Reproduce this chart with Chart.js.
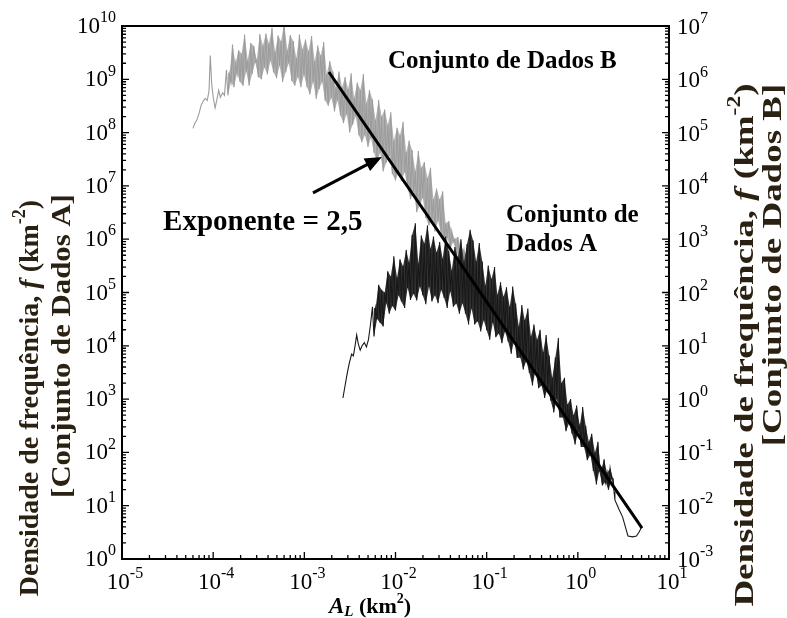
<!DOCTYPE html>
<html lang="pt">
<head>
<meta charset="UTF-8">
<title>Densidade de frequência x A_L</title>
<style>
  html, body { margin: 0; padding: 0; background: #fff; }
  #wrap { width: 787px; height: 618px; }
</style>
</head>
<body>
<div id="wrap"><canvas id="chart" width="787" height="618"></canvas></div>
<script src="https://cdn.jsdelivr.net/npm/chart.js"></script>
<script>
// Conjunto de Dados B (eixo direito), area A_L em km2
const setBX = [
  6.0e-5, 6.3e-5, 6.6e-5, 7.0e-5, 7.4e-5, 7.8e-5, 8.2e-5, 8.6e-5, 9.0e-5, 9.3e-5,
  9.6e-5, 1.0e-4, 1.05e-4, 1.1e-4, 1.15e-4, 1.2e-4, 1.27e-4, 1.33e-4,
  1.40e-4, 1.45e-4, 1.51e-4, 1.57e-4, 1.63e-4, 1.69e-4, 1.76e-4, 1.83e-4, 1.90e-4, 1.97e-4,
  2.05e-4, 2.13e-4, 2.21e-4, 2.30e-4, 2.39e-4, 2.48e-4, 2.58e-4, 2.68e-4, 2.79e-4, 2.90e-4,
  3.01e-4, 3.13e-4, 3.25e-4, 3.38e-4, 3.51e-4, 3.65e-4, 3.79e-4, 3.94e-4, 4.09e-4, 4.25e-4,
  4.42e-4, 4.59e-4, 4.77e-4, 4.96e-4, 5.15e-4, 5.35e-4, 5.56e-4, 5.78e-4, 6.01e-4, 6.25e-4,
  6.49e-4, 6.75e-4, 7.01e-4, 7.28e-4, 7.57e-4, 7.86e-4, 8.17e-4, 8.49e-4, 8.83e-4, 9.17e-4,
  9.53e-4, 9.91e-4, 1.03e-3, 1.07e-3, 1.11e-3, 1.15e-3, 1.20e-3, 1.25e-3, 1.30e-3, 1.35e-3,
  1.40e-3, 1.45e-3, 1.51e-3, 1.57e-3, 1.63e-3, 1.69e-3, 1.76e-3, 1.83e-3, 1.90e-3, 1.98e-3,
  2.06e-3, 2.14e-3, 2.22e-3, 2.31e-3, 2.40e-3, 2.49e-3, 2.59e-3, 2.69e-3, 2.80e-3, 2.91e-3,
  3.02e-3, 3.14e-3, 3.26e-3, 3.39e-3, 3.52e-3, 3.66e-3, 3.81e-3, 3.96e-3, 4.11e-3, 4.27e-3,
  4.44e-3, 4.62e-3, 4.80e-3, 4.99e-3, 5.18e-3, 5.38e-3, 5.59e-3, 5.81e-3, 6.04e-3, 6.28e-3,
  6.53e-3, 6.78e-3, 7.05e-3, 7.32e-3, 7.61e-3, 7.91e-3, 8.22e-3, 8.54e-3, 8.88e-3, 9.23e-3,
  9.59e-3, 9.99e-3, 1.04e-2, 1.08e-2, 1.12e-2, 1.16e-2, 1.21e-2, 1.26e-2, 1.31e-2, 1.36e-2,
  1.41e-2, 1.46e-2, 1.52e-2, 1.58e-2, 1.65e-2, 1.71e-2, 1.78e-2, 1.85e-2, 1.92e-2, 1.99e-2,
  2.07e-2, 2.15e-2, 2.24e-2, 2.33e-2, 2.42e-2, 2.51e-2, 2.61e-2, 2.71e-2, 2.82e-2, 2.93e-2,
  3.05e-2, 3.17e-2, 3.29e-2, 3.42e-2, 3.55e-2, 3.69e-2, 3.84e-2, 3.99e-2, 4.14e-2, 4.31e-2,
  4.48e-2, 4.65e-2, 4.83e-2, 5.02e-2, 5.22e-2, 5.43e-2, 5.64e-2, 5.86e-2, 6.09e-2, 6.33e-2,
  6.58e-2, 6.84e-2, 7.10e-2, 7.38e-2, 7.67e-2, 7.97e-2, 8.29e-2, 8.61e-2, 8.95e-2, 9.30e-2,
  9.67e-2, 0.100, 0.104, 0.108
];
const setBY = [
  1.2e5, 1.5e5, 1.7e5, 2.3e5, 3.3e5, 3.9e5, 4.4e5, 4.0e5, 6.0e5, 2.8e6,
  9.0e5, 4.6e5, 2.9e5, 4.2e5, 6.2e5, 4.6e5, 5.6e5, 5.0e5,
  1.5e6, 5.0e5, 1.26e6, 8.9e5, 4.5e6, 7.1e5, 2.0e6, 1.3e6, 3.5e6, 8.9e5,
  3.0e6, 7.6e5, 6.9e6, 1.4e6, 2.3e6, 7.6e5, 4.8e6, 1.26e6, 4.2e6, 2.1e6,
  2.3e6, 1.1e6, 7.1e6, 1.0e6, 4.3e6, 1.66e6, 7.2e6, 1.23e6, 4.7e6, 2.2e6,
  9.3e6, 1.35e6, 3.3e6, 1.05e6, 6.6e6, 1.8e6, 5.2e6, 8.9e5, 1.15e7, 1.35e6,
  3.5e6, 2.0e6, 6.8e6, 9.3e5, 5.2e6, 7.6e5, 2.5e6, 1.1e6, 6.9e6, 7.1e5,
  3.7e6, 1.2e6, 5.6e6, 7.1e5, 3.4e6, 5.2e5, 6.5e6, 8.9e5, 2.2e6, 4.3e5,
  4.3e6, 6.5e5, 2.8e6, 8.9e5, 5.0e6, 4.0e5, 1.26e6, 3.2e5, 2.2e6, 4.5e5,
  1.4e6, 2.5e5, 7.1e5, 4.0e5, 1.4e6, 2.1e5, 7.1e5, 1.5e5, 1.1e6, 2.2e5,
  6.6e5, 1.0e5, 1.3e6, 1.4e5, 4.5e5, 2.0e5, 8.7e5, 8.9e4, 6.3e5, 6.6e4,
  1.26e6, 8.9e4, 3.6e5, 5.4e4, 6.3e5, 7.9e4, 4.2e5, 4.2e4, 1.74e5, 2.8e4,
  4.1e5, 4.2e4, 2.0e5, 1.86e4, 2.7e5, 2.7e4, 1.4e5, 3.7e4, 2.4e5, 1.66e4,
  7.1e4, 1.26e4, 1.23e5, 1.8e4, 8.9e4, 1.23e4, 1.6e5, 1.8e4, 4.3e4, 8.9e3,
  7.1e4, 5.6e3, 4.7e4, 7.9e3, 1.9e4, 3.2e3, 4.5e4, 4.3e3, 2.2e4, 5.9e3,
  2.8e4, 2.5e3, 1.4e4, 1.8e3, 2.2e4, 2.4e3, 5.6e3, 1.4e3, 8.9e3, 2.2e3,
  5.6e3, 1.26e3, 7.9e3, 890, 2.0e3, 1.1e3, 2.2e3, 660, 1.4e3, 890,
  1.0e3, 560, 1.1e3, 480, 710, 400, 630, 350, 450, 320,
  420, 260, 280, 200, 240, 140, 160, 100, 126, 71,
  83, 56, 52, 46
];
// trecho ruidoso de B (picos nos indices pares, vales nos impares)
const bandB = [18, 191];

// Conjunto de Dados A (eixo esquerdo)
const setAX = [
  2.65e-3, 2.8e-3, 2.95e-3, 3.1e-3, 3.3e-3, 3.45e-3, 3.6e-3, 3.75e-3, 3.9e-3, 4.1e-3,
  4.3e-3, 4.55e-3, 4.8e-3, 5.05e-3, 5.3e-3,
  5.59e-3, 5.81e-3, 6.04e-3, 6.28e-3, 6.53e-3, 6.78e-3, 7.05e-3, 7.32e-3, 7.61e-3, 7.91e-3,
  8.22e-3, 8.54e-3, 8.88e-3, 9.23e-3, 9.59e-3, 9.99e-3, 1.04e-2, 1.08e-2, 1.12e-2, 1.16e-2,
  1.21e-2, 1.26e-2, 1.31e-2, 1.36e-2, 1.41e-2, 1.46e-2, 1.52e-2, 1.58e-2, 1.65e-2, 1.71e-2,
  1.78e-2, 1.85e-2, 1.92e-2, 1.99e-2, 2.07e-2, 2.15e-2, 2.24e-2, 2.33e-2, 2.42e-2, 2.51e-2,
  2.61e-2, 2.71e-2, 2.82e-2, 2.93e-2, 3.05e-2, 3.17e-2, 3.29e-2, 3.42e-2, 3.55e-2, 3.69e-2,
  3.84e-2, 3.99e-2, 4.14e-2, 4.31e-2, 4.48e-2, 4.65e-2, 4.83e-2, 5.02e-2, 5.22e-2, 5.43e-2,
  5.64e-2, 5.86e-2, 6.09e-2, 6.33e-2, 6.58e-2, 6.84e-2, 7.10e-2, 7.38e-2, 7.67e-2, 7.97e-2,
  8.29e-2, 8.61e-2, 8.95e-2, 9.30e-2, 9.67e-2, 0.100, 0.104, 0.108, 0.113, 0.117,
  0.122, 0.126, 0.131, 0.136, 0.142, 0.147, 0.153, 0.159, 0.165, 0.172,
  0.179, 0.186, 0.193, 0.200, 0.208, 0.216, 0.225, 0.234, 0.243, 0.252,
  0.262, 0.272, 0.283, 0.294, 0.306, 0.318, 0.330, 0.343, 0.357, 0.371,
  0.385, 0.400, 0.416, 0.432, 0.449, 0.467, 0.485, 0.504, 0.524, 0.545,
  0.566, 0.588, 0.611, 0.635, 0.660, 0.686, 0.713, 0.741, 0.770, 0.800,
  0.832, 0.864, 0.898, 0.933, 0.970, 1.01, 1.05, 1.09, 1.13, 1.17,
  1.22, 1.27, 1.32, 1.37, 1.42, 1.48, 1.54, 1.60, 1.66, 1.72,
  1.79, 1.86, 1.94, 2.01, 2.09, 2.17, 2.26, 2.35, 2.44, 2.50,
  2.55, 2.85, 3.1, 3.45, 3.55, 4.0, 4.4, 4.7, 4.95
];
const setAY = [
  1.05e3, 1.8e3, 3.0e3, 4.6e3, 7.0e3, 6.5e3, 1.0e4, 1.6e4, 1.1e4, 8.3e3,
  1.0e4, 1.15e4, 9.5e3, 1.3e4, 2.4e4,
  5.4e4, 1.5e4, 5.0e4, 3.2e4, 1.4e5, 2.7e4, 1.12e5, 2.3e4, 1.0e5, 6.3e4,
  2.5e5, 4.0e4, 2.0e5, 5.6e4, 4.8e5, 4.6e4, 1.9e5, 8.9e4, 4.2e5, 6.8e4,
  3.1e5, 5.1e4, 6.3e5, 1.23e5, 3.7e5, 7.2e4, 1.2e6, 9.5e4, 2.0e6, 7.1e4,
  3.5e5, 1.3e5, 1.17e6, 8.9e4, 8.3e5, 6.0e4, 1.8e6, 1.3e5, 6.6e5, 6.8e4,
  1.12e6, 8.9e4, 5.6e5, 6.3e4, 8.9e5, 1.12e5, 4.3e5, 7.9e4, 1.12e6, 5.1e4,
  6.0e5, 1.05e5, 2.6e5, 5.4e4, 7.1e5, 6.2e4, 4.6e5, 4.0e4, 1.0e6, 6.3e4,
  3.8e5, 4.0e4, 8.1e5, 2.5e4, 1.5e6, 5.0e4, 9.5e5, 2.5e4, 3.8e5, 2.9e4,
  8.5e5, 1.86e4, 3.8e5, 3.0e4, 1.35e5, 1.95e4, 3.2e5, 1.3e4, 1.8e5, 2.75e4,
  3.0e5, 1.45e4, 9.1e4, 1.7e4, 1.55e5, 1.12e4, 8.3e4, 1.86e4, 1.26e5, 1.2e4,
  5.4e4, 7.1e3, 1.3e5, 1.26e4, 6.2e4, 5.9e3, 2.3e4, 6.0e3, 5.8e4, 3.6e3,
  3.0e4, 5.2e3, 5.0e4, 3.1e3, 1.5e4, 1.8e3, 2.5e4, 3.4e3, 1.3e4, 1.6e3,
  2.0e4, 1.8e3, 7.6e3, 1.05e3, 1.6e4, 1.6e3, 6.6e3, 930, 2.5e3, 560,
  6.0e3, 1.0e3, 1.4e4, 450, 2.0e3, 450, 2.5e3, 250, 790, 350,
  1.0e3, 224, 500, 141, 760, 250, 316, 126, 710, 126,
  316, 71, 158, 89, 224, 45, 100, 25, 158, 45,
  45, 24, 74, 28, 41, 20, 50, 32, 32, 18,
  12.8, 8.3, 6.1, 3.2, 2.7, 2.6, 2.7, 3.2, 3.8
];
const bandA = [15, 174];

// reta de ajuste, expoente 2,5 (eixo esquerdo)
const fitX = [1.86e-3, 5.06];
const fitY = [1.37e9, 3.8];

// expoentes das marcas principais
const xExp = [-5, -4, -3, -2, -1, 0, 1];
const leftExp = [0, 1, 2, 3, 4, 5, 6, 7, 8, 9, 10];
const rightExp = [-3, -2, -1, 0, 1, 2, 3, 4, 5, 6, 7];

// seta e textos, em coordenadas do eixo esquerdo
const arrowFrom = [1.245e-3, 7.4e6];
const arrowTo = [7.1e-3, 3.5e7];
const notes = [
  { text: 'Conjunto de Dados B', x: 8.28e-3, y: 2.11e9, size: 25 },
  { text: 'Exponente = 2,5', x: 2.82e-5, y: 2.1e6, size: 29 },
  { text: 'Conjunto de', x: 0.163, y: 2.72e6, size: 25 },
  { text: 'Dados A', x: 0.163, y: 8.1e5, size: 25 }
];

const SERIF = '"Liberation Serif", "Times New Roman", serif';
const TITLE_COLOR = '#2a2112';

function pts(xs, ys) {
  return xs.map((v, i) => ({ x: v, y: ys[i] }));
}

// picos (parity 0) ou vales (parity 1) do trecho ruidoso
function edge(xs, ys, band, parity) {
  const out = [];
  for (let i = band[0]; i <= band[1]; i++) {
    if ((i - band[0]) % 2 === parity) out.push({ x: xs[i], y: ys[i] });
  }
  return out;
}

// desenha trechos de texto com fontes diferentes numa mesma linha
function drawRuns(ctx, runs, x, y, align) {
  let total = 0;
  runs.forEach(r => { ctx.font = r[1]; total += ctx.measureText(r[0]).width; });
  let cx = align === 'center' ? x - total / 2 : align === 'right' ? x - total : x;
  ctx.textAlign = 'left';
  runs.forEach(r => {
    ctx.font = r[1];
    ctx.fillText(r[0], cx, y + (r[2] || 0));
    cx += ctx.measureText(r[0]).width;
  });
}

function powLabel(e) {
  return [['10', '23px ' + SERIF, 0], [String(e), '16px ' + SERIF, -9]];
}

function axisTitle(size) {
  return [
    ['Densidade de frequência, ', 'bold ' + size + 'px ' + SERIF, 0],
    ['f', 'bold italic ' + size + 'px ' + SERIF, 0],
    [' (km', 'bold ' + size + 'px ' + SERIF, 0],
    ['-2', 'bold ' + Math.round(size * 0.65) + 'px ' + SERIF, -Math.round(size * 0.38)],
    [')', 'bold ' + size + 'px ' + SERIF, 0]
  ];
}

// texto vertical; stretch alonga no sentido da leitura
function rotated(ctx, runs, x, y, stretch) {
  ctx.save();
  ctx.translate(x, y);
  ctx.rotate(-Math.PI / 2);
  ctx.scale(stretch || 1, 1);
  drawRuns(ctx, runs, 0, 0, 'center');
  ctx.restore();
}

const decor = {
  id: 'decor',
  afterDatasetsDraw(chart) {
    const { ctx, chartArea: a } = chart;
    const { x, y, y2 } = chart.scales;
    ctx.save();

    // seta
    const x0 = x.getPixelForValue(arrowFrom[0]), y0 = y.getPixelForValue(arrowFrom[1]);
    const x1 = x.getPixelForValue(arrowTo[0]), y1 = y.getPixelForValue(arrowTo[1]);
    const ang = Math.atan2(y1 - y0, x1 - x0);
    const c = Math.cos(ang), s = Math.sin(ang);
    ctx.strokeStyle = '#000';
    ctx.fillStyle = '#000';
    ctx.lineWidth = 3;
    ctx.beginPath();
    ctx.moveTo(x0, y0);
    ctx.lineTo(x1 - 12 * c, y1 - 12 * s);
    ctx.stroke();
    ctx.beginPath();
    ctx.moveTo(x1, y1);
    ctx.lineTo(x1 - 17 * c + 7 * s, y1 - 17 * s - 7 * c);
    ctx.lineTo(x1 - 17 * c - 7 * s, y1 - 17 * s + 7 * c);
    ctx.closePath();
    ctx.fill();

    // textos dentro do grafico
    ctx.textBaseline = 'middle';
    notes.forEach(n => {
      drawRuns(ctx, [[n.text, 'bold ' + n.size + 'px ' + SERIF, 0]],
        x.getPixelForValue(n.x), y.getPixelForValue(n.y), 'left');
    });

    // moldura
    ctx.lineWidth = 2;
    ctx.strokeRect(a.left, a.top, a.right - a.left, a.bottom - a.top);

    // marcas para dentro: esquerda, direita e base
    ctx.lineWidth = 1.3;
    ctx.beginPath();
    for (let e = 0; e < 10; e++) {
      for (let m = 1; m <= 9; m++) {
        const p = y.getPixelForValue(m * Math.pow(10, e));
        const len = m === 1 ? 7 : 4;
        ctx.moveTo(a.left, p); ctx.lineTo(a.left + len, p);
      }
    }
    for (let e = -3; e < 7; e++) {
      for (let m = 1; m <= 9; m++) {
        const p = y2.getPixelForValue(m * Math.pow(10, e));
        const len = m === 1 ? 7 : 4;
        ctx.moveTo(a.right, p); ctx.lineTo(a.right - len, p);
      }
    }
    for (let e = -5; e < 1; e++) {
      for (let m = 1; m <= 9; m++) {
        const p = x.getPixelForValue(m * Math.pow(10, e));
        const len = m === 1 ? 7 : 4;
        ctx.moveTo(p, a.bottom); ctx.lineTo(p, a.bottom - len);
      }
    }
    ctx.stroke();

    // rotulos das marcas
    leftExp.forEach(e => drawRuns(ctx, powLabel(e), a.left - 6, y.getPixelForValue(Math.pow(10, e)) + 1, 'right'));
    rightExp.forEach(e => drawRuns(ctx, powLabel(e), a.right + 8, y2.getPixelForValue(Math.pow(10, e)) + 2, 'left'));
    xExp.forEach(e => drawRuns(ctx, powLabel(e), x.getPixelForValue(Math.pow(10, e)) + 3, a.bottom + 24, 'center'));

    // titulo do eixo x
    drawRuns(ctx, [
      ['A', 'bold italic 23px ' + SERIF, 0],
      ['L', 'bold italic 15px ' + SERIF, 5],
      [' (km', 'bold 22px ' + SERIF, 0],
      ['2', 'bold 14px ' + SERIF, -8],
      [')', 'bold 22px ' + SERIF, 0]
    ], 370, 607, 'center');

    // titulos dos eixos verticais
    ctx.fillStyle = TITLE_COLOR;
    rotated(ctx, axisTitle(28), 31, 398, 1);
    rotated(ctx, [['[Conjunto de Dados A]', 'bold 28px ' + SERIF, 0]], 63, 346, 1.1);
    rotated(ctx, axisTitle(28), 746, 345, 1.32);
    rotated(ctx, [['[Conjunto de Dados B]', 'bold 28px ' + SERIF, 0]], 774, 265, 1.32);

    ctx.restore();
  }
};

const hidden = { display: false };
const bare = { pointRadius: 0, borderWidth: 0 };

new Chart(document.getElementById('chart'), {
  type: 'line',
  data: {
    datasets: [
      {
        label: 'Expoente 2,5',
        data: pts(fitX, fitY),
        yAxisID: 'y',
        borderColor: '#000',
        borderWidth: 3,
        pointRadius: 0
      },
      {
        label: 'Conjunto de Dados A',
        data: pts(setAX, setAY),
        yAxisID: 'y',
        borderColor: '#181818',
        borderWidth: 1.1,
        pointRadius: 0
      },
      Object.assign({ data: edge(setAX, setAY, bandA, 0), yAxisID: 'y' }, bare),
      Object.assign({ data: edge(setAX, setAY, bandA, 1), yAxisID: 'y', fill: 2, backgroundColor: '#333333' }, bare),
      {
        label: 'Conjunto de Dados B',
        data: pts(setBX, setBY),
        yAxisID: 'y2',
        borderColor: '#9c9c9c',
        borderWidth: 1.1,
        pointRadius: 0
      },
      Object.assign({ data: edge(setBX, setBY, bandB, 0), yAxisID: 'y2' }, bare),
      Object.assign({ data: edge(setBX, setBY, bandB, 1), yAxisID: 'y2', fill: 5, backgroundColor: '#b3b3b3' }, bare)
    ]
  },
  options: {
    responsive: false,
    animation: false,
    devicePixelRatio: 1,
    layout: { padding: { top: 26, left: 0, right: 0, bottom: 0 } },
    plugins: { legend: hidden, tooltip: { enabled: false } },
    elements: { line: { tension: 0 } },
    scales: {
      x: {
        type: 'logarithmic', min: 1e-5, max: 10,
        ticks: hidden, grid: hidden, border: hidden,
        afterFit: s => { s.height = 59; }
      },
      y: {
        type: 'logarithmic', position: 'left', min: 1, max: 1e10,
        ticks: hidden, grid: hidden, border: hidden,
        afterFit: s => { s.width = 122; }
      },
      y2: {
        type: 'logarithmic', position: 'right', min: 1e-3, max: 1e7,
        ticks: hidden, grid: hidden, border: hidden,
        afterFit: s => { s.width = 118; }
      }
    }
  },
  plugins: [decor]
});
</script>
</body>
</html>
